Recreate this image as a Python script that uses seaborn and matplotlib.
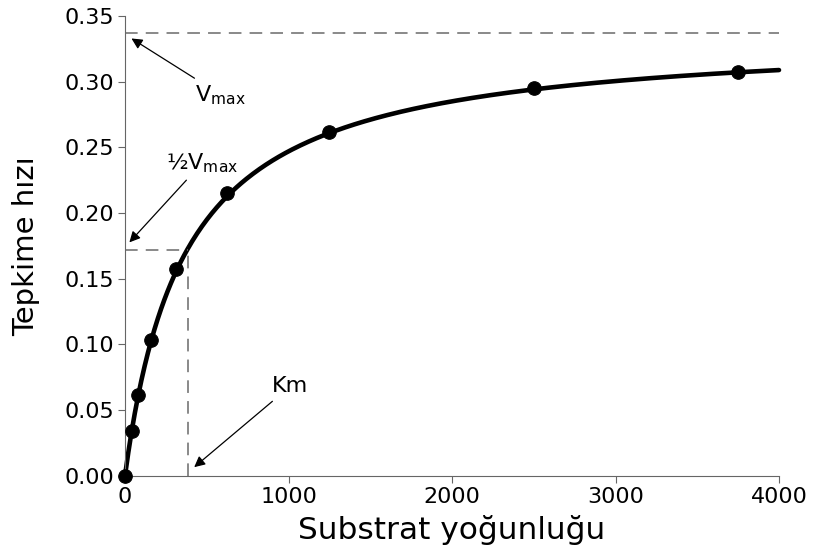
import numpy as np
import pandas as pd
import matplotlib
matplotlib.use("Agg")
import matplotlib.pyplot as plt
import seaborn as sns

# measured points
substrate = [0, 40, 80, 160, 312.5, 625, 1250, 2500, 3750]
rate = [0.0, 0.034, 0.061, 0.103, 0.157, 0.215, 0.262, 0.295, 0.307]

# Michaelis-Menten parameters
vmax = 0.337
km = 365
half_line = 0.172
km_line = 385

sns.set_style("ticks")
plt.rcParams['font.family'] = ['DejaVu Sans']
plt.rcParams['text.color'] = 'black'
plt.rcParams['axes.labelcolor'] = 'black'
plt.rcParams['xtick.labelcolor'] = 'black'
plt.rcParams['ytick.labelcolor'] = 'black'

fig = plt.figure(figsize=(8.14, 5.55), dpi=100)
ax = fig.add_axes([0.1536, 0.1432, 0.8034, 0.8280])

s_fit = np.linspace(0, 4000, 400)
fit = pd.DataFrame({'S': s_fit, 'v': vmax * s_fit / (km + s_fit)})
sns.lineplot(data=fit, x='S', y='v', color='black', lw=3.3, ax=ax,
             solid_capstyle='round', clip_on=False)

pts = pd.DataFrame({'S': substrate, 'v': rate})
sns.scatterplot(data=pts, x='S', y='v', color='black', s=95, ax=ax,
                edgecolor='black', zorder=5, clip_on=False)

dash_kw = dict(color='#808080', lw=1.3, dashes=(7, 4.5))
ax.plot([0, 4000], [vmax, vmax], **dash_kw)
ax.plot([0, km_line], [half_line, half_line], **dash_kw)
ax.plot([km_line, km_line], [0, half_line], **dash_kw)

arrow = dict(arrowstyle='-|>', color='black', lw=0.9, mutation_scale=16)
ax.annotate(r'V$_{\mathrm{max}}$', xy=(25, 0.334), xytext=(430, 0.290),
            fontsize=16, arrowprops=arrow, ha='left', va='center')
ax.annotate(r'½V$_{\mathrm{max}}$', xy=(15, 0.176), xytext=(250, 0.238),
            fontsize=16, arrowprops=arrow, ha='left', va='center')
ax.annotate('Km', xy=(410, 0.005), xytext=(900, 0.068),
            fontsize=16, arrowprops=arrow, ha='left', va='center')

ax.set_xlim(0, 4000)
ax.set_ylim(0, 0.35)
ax.set_xticks([0, 1000, 2000, 3000, 4000])
ax.set_yticks(np.arange(0, 0.351, 0.05))
ax.yaxis.set_major_formatter(matplotlib.ticker.FormatStrFormatter('%.2f'))
ax.tick_params(labelsize=16, color='#666666', length=5, pad=3)
for side in ['left', 'bottom']:
    ax.spines[side].set_color('#666666')
sns.despine(ax=ax)

ax.set_xlabel('Substrat yoğunluğu', fontsize=22.5, labelpad=6)
ax.set_ylabel('Tepkime hızı', fontsize=21, labelpad=17)

fig.savefig('out.png', dpi=100)
